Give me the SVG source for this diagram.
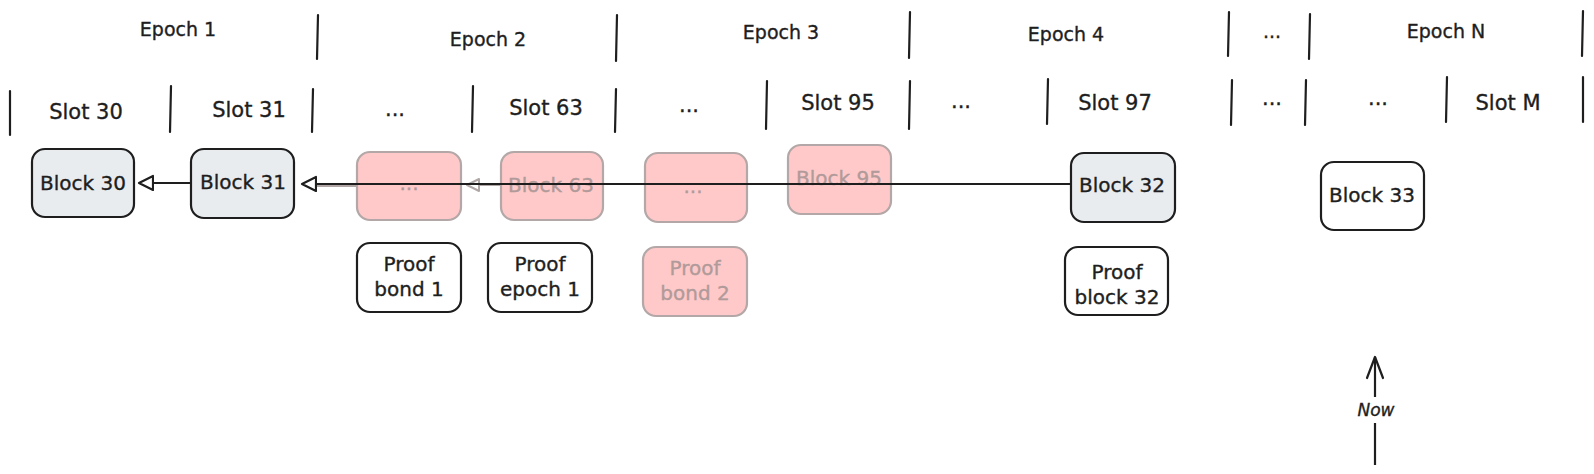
<svg xmlns="http://www.w3.org/2000/svg" width="1594" height="474" viewBox="0 0 1594 474">
<style>
text{font-family:"DejaVu Sans","Liberation Sans",sans-serif;fill:#1e1e1e;text-anchor:middle;stroke:#1e1e1e;stroke-width:0.35}
.ep{font-size:19px}
.sl{font-size:21px}
.bt{font-size:20px}
.sep{stroke:#1e1e1e;stroke-width:2.2;stroke-linecap:round}
.box{stroke:#1e1e1e;stroke-width:2.2;fill:#ffffff}
.gray{fill:#e9ecef}
.pink{fill:#ffc9c9;stroke:#b3a7a7;stroke-width:2.2}
text.pt{fill:#b09a9a;stroke:#b09a9a}
.con{stroke:#1e1e1e;stroke-width:2.2;fill:none}
.fcon{stroke:#b0a6a6;stroke-width:2;fill:none}
</style>
<defs>
<marker id="tri" markerUnits="userSpaceOnUse" markerWidth="18" markerHeight="18" refX="15" refY="9" orient="auto">
<path d="M1,2 L15,9 L1,16 Z" fill="#ffffff" stroke="#1e1e1e" stroke-width="2.2" stroke-linejoin="round"/>
</marker>
<marker id="ftri" markerUnits="userSpaceOnUse" markerWidth="18" markerHeight="18" refX="13" refY="9" orient="auto">
<path d="M1,3 L13,9 L1,15 Z" fill="#ffffff" stroke="#b0a6a6" stroke-width="2" stroke-linejoin="round"/>
</marker>
</defs>
<rect width="1594" height="474" fill="#ffffff"/>

<g id="grid">
<line class="sep" x1="318" y1="15" x2="317" y2="59"/>
<line class="sep" x1="617" y1="15" x2="616" y2="61"/>
<line class="sep" x1="910" y1="12" x2="909" y2="58"/>
<line class="sep" x1="1229" y1="12" x2="1228" y2="56"/>
<line class="sep" x1="1310" y1="14" x2="1309" y2="59"/>
<line class="sep" x1="1583" y1="11" x2="1582" y2="56"/>

<line class="sep" x1="10" y1="91" x2="10" y2="135"/>
<line class="sep" x1="171" y1="86" x2="170" y2="132"/>
<line class="sep" x1="313" y1="89" x2="312" y2="132"/>
<line class="sep" x1="473" y1="86" x2="472" y2="132"/>
<line class="sep" x1="616" y1="89" x2="615" y2="132"/>
<line class="sep" x1="767" y1="81" x2="766" y2="129"/>
<line class="sep" x1="910" y1="81" x2="909" y2="129"/>
<line class="sep" x1="1048" y1="79" x2="1047" y2="124"/>
<line class="sep" x1="1232" y1="80" x2="1231" y2="125"/>
<line class="sep" x1="1306" y1="80" x2="1305" y2="125"/>
<line class="sep" x1="1447" y1="77" x2="1446" y2="122"/>
<line class="sep" x1="1583" y1="77" x2="1583" y2="122"/>
</g>

<g id="labels">
<text class="ep" x="178" y="36">Epoch 1</text>
<text class="ep" x="488" y="46">Epoch 2</text>
<text class="ep" x="781" y="39">Epoch 3</text>
<text class="ep" x="1066" y="41">Epoch 4</text>
<text class="ep" x="1272" y="38">...</text>
<text class="ep" x="1446" y="38">Epoch N</text>

<text class="sl" x="86" y="119">Slot 30</text>
<text class="sl" x="249" y="117">Slot 31</text>
<text class="sl" x="395" y="116">...</text>
<text class="sl" x="546" y="115">Slot 63</text>
<text class="sl" x="689" y="112">...</text>
<text class="sl" x="838" y="110">Slot 95</text>
<text class="sl" x="961" y="108">...</text>
<text class="sl" x="1115" y="110">Slot 97</text>
<text class="sl" x="1272" y="105">...</text>
<text class="sl" x="1378" y="105">...</text>
<text class="sl" x="1508" y="110">Slot M</text>
</g>

<g id="block30">
<rect class="box gray" x="32" y="149" width="102" height="68" rx="13"/>
<text class="bt" x="83" y="190">Block 30</text>
</g>
<g id="block31">
<rect class="box gray" x="191" y="149" width="103" height="69" rx="13"/>
<text class="bt" x="243" y="189">Block 31</text>
</g>
<g id="pink-dots1">
<rect class="pink" x="357" y="152" width="104" height="68" rx="13"/>
<text class="bt pt" x="409" y="190">...</text>
</g>
<g id="block63">
<rect class="pink" x="501" y="152" width="102" height="68" rx="13"/>
<text class="bt pt" x="551" y="192">Block 63</text>
</g>
<g id="pink-dots2">
<rect class="pink" x="645" y="153" width="102" height="69" rx="13"/>
<text class="bt pt" x="693" y="193">...</text>
</g>
<g id="block95">
<rect class="pink" x="788" y="145" width="103" height="69" rx="13"/>
<text class="bt pt" x="839" y="185">Block 95</text>
</g>
<g id="block32">
<rect class="box gray" x="1071" y="153" width="104" height="69" rx="13"/>
<text class="bt" x="1122" y="192">Block 32</text>
</g>
<g id="block33">
<rect class="box" x="1321" y="162" width="103" height="68" rx="13"/>
<text class="bt" x="1372" y="202">Block 33</text>
</g>
<g id="proof-bond1">
<rect class="box" x="357" y="243" width="104" height="69" rx="13"/>
<text class="bt" x="409" y="271">Proof</text>
<text class="bt" x="409" y="296">bond 1</text>
</g>
<g id="proof-epoch1">
<rect class="box" x="488" y="243" width="104" height="69" rx="13"/>
<text class="bt" x="540" y="271">Proof</text>
<text class="bt" x="540" y="296">epoch 1</text>
</g>
<g id="proof-bond2">
<rect class="pink" x="643" y="247" width="104" height="69" rx="13"/>
<text class="bt pt" x="695" y="275">Proof</text>
<text class="bt pt" x="695" y="300">bond 2</text>
</g>
<g id="proof-block32">
<rect class="box" x="1065" y="247" width="103" height="68" rx="13"/>
<text class="bt" x="1117" y="279">Proof</text>
<text class="bt" x="1117" y="304">block 32</text>
</g>

<g id="connectors">
<line class="fcon" x1="501" y1="185" x2="467" y2="185" marker-end="url(#ftri)"/>
<line class="fcon" x1="357" y1="186" x2="305" y2="186"/>
<line class="con" x1="191" y1="183" x2="139" y2="183" marker-end="url(#tri)"/>
<line class="con" x1="1071" y1="184" x2="302" y2="184" marker-end="url(#tri)"/>
<line class="con" x1="1375" y1="465" x2="1375" y2="423"/>
<line class="con" x1="1375" y1="397" x2="1375" y2="357"/>
<polyline class="con" points="1367,378 1375,357 1383,378" stroke-linejoin="round" stroke-linecap="round"/>
<text x="1376" y="416" style="font-size:17px;font-style:italic">Now</text>
</g>
</svg>
